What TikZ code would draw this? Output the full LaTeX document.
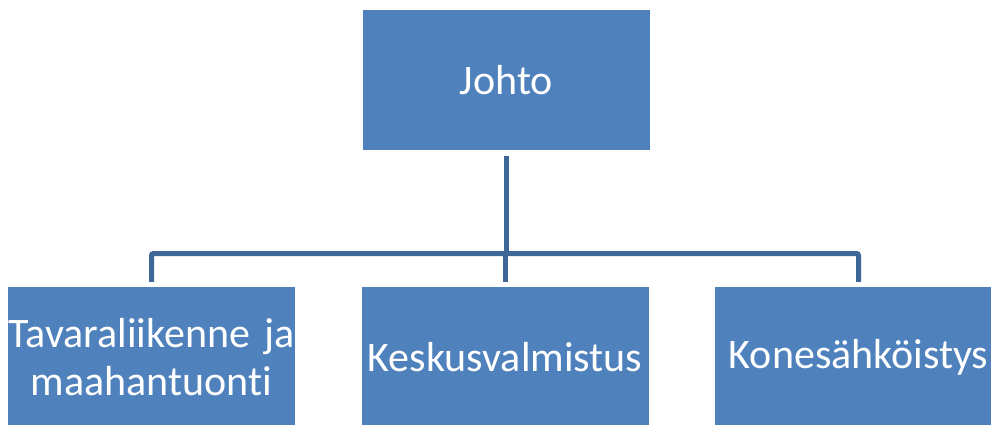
\documentclass[tikz,border=0pt]{standalone}
\usepackage{fontspec}
\setmainfont[Ligatures={NoCommon}]{Carlito}
\definecolor{boxfill}{HTML}{4F81BD}
\definecolor{connline}{HTML}{3E6798}
\tikzset{
  orgbox/.style={fill=boxfill, draw=none, minimum width=287pt, minimum height=140pt,
    text width=287pt, align=center, inner sep=0pt, text=white,
    font=\fontsize{42}{48}\selectfont},
  conn/.style={draw=connline, line width=5pt, rounded corners=2pt}
}
\begin{document}
\begin{tikzpicture}[x=1pt,y=-1pt]
\useasboundingbox (0,0) rectangle (991,425);
\clip (0,0) rectangle (991,425);
\node[orgbox] (top) at (506.5,80) {Johto};
\node[orgbox] (l) at (151.5,357) {Tavaraliikenne ja\\maahantuonti};
\node[orgbox] (m) at (505,357) {Keskusvalmistus};
\node[orgbox] (r) at (858.5,357) {Konesähköistys};
\coordinate (bus) at (506.5,253.5);
\draw[conn] ([yshift=-6pt]top.south) -- (top.south |- bus);
\draw[conn] ([yshift=5pt]l.north) -- (l.north |- bus) -- (r.north |- bus) -- ([yshift=5pt]r.north);
\draw[conn] (m.north |- bus) -- ([yshift=5pt]m.north);
\end{tikzpicture}
\end{document}
